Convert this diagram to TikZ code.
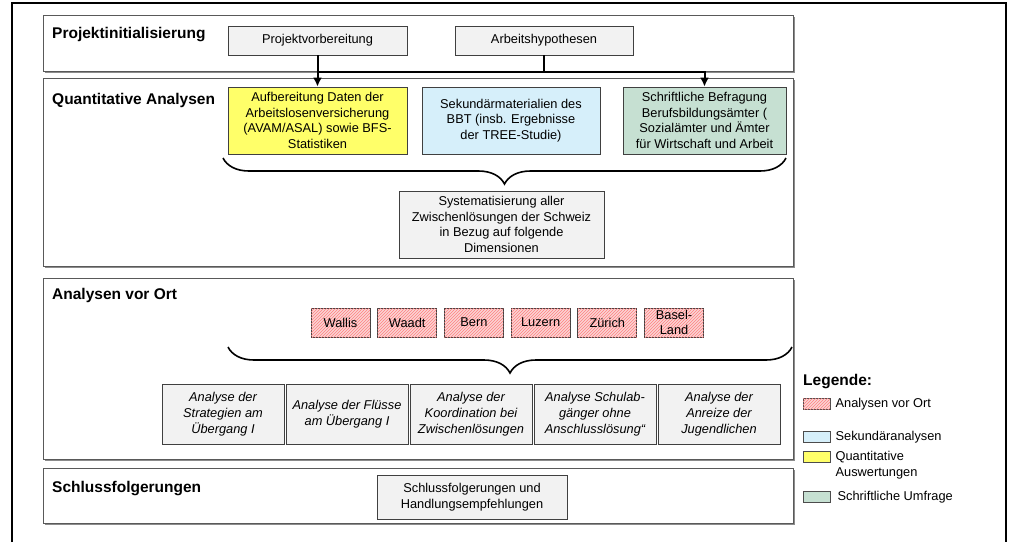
\documentclass[tikz,border=0pt]{standalone}
\usepackage{fontspec}
\setmainfont{Liberation Sans}
\usetikzlibrary{positioning,arrows.meta,decorations.pathreplacing,shadows,patterns}

\definecolor{boxgray}{RGB}{242,242,242}
\definecolor{ortred}{RGB}{250,212,212}
\definecolor{sekblue}{RGB}{214,239,250}
\definecolor{quantyellow}{RGB}{255,255,105}
\definecolor{umfgreen}{RGB}{198,224,210}

\begin{document}
\begin{tikzpicture}
    [x=1pt,y=-1pt
    ,every node/.style={font=\fontsize{12.8}{15.6}\selectfont, inner sep=0pt}
    ,panel/.style={draw=black!65, line width=1pt, fill=white, minimum width=750,
        drop shadow={shadow xshift=1.5pt, shadow yshift=-1.5pt, fill=black!45, opacity=1}}
    ,title/.style={anchor=west, font=\fontsize{15.5}{18}\selectfont\bfseries}
    ,box/.style={draw=black!75, line width=0.8pt, fill=boxgray, align=center}
    ,ortbox/.style={box, fill=ortred, postaction={pattern=north east lines, pattern color=red!50}}
    ,canton/.style={ortbox, minimum width=59, minimum height=29}
    ,anabox/.style={box, minimum width=122, minimum height=60,
        font=\fontsize{12.8}{15.8}\selectfont\itshape}
    ,swatch/.style={draw=black!70, line width=0.8pt, minimum width=27, minimum height=11}
    ,conn/.style={line width=2pt}
    ,bracket/.style={line width=1.6pt, decorate, decoration={brace, mirror, amplitude=26pt}}
    ,>={Latex[length=9pt,width=9pt]}
    ]

    \useasboundingbox (0,0) rectangle (1013,542);

    % outer frame
    \draw[line width=2.5pt] (12,542) -- (12,3) -- (1006,3) -- (1006,542);

    % phases
    \node[panel, minimum height=56] (p1) at (418,43) {};
    \node[panel, minimum height=188] (p2) at (418,172) {};
    \node[panel, minimum height=181] (p3) at (418,368.5) {};
    \node[panel, minimum height=55] (p4) at (418,495.5) {};

    \node[title] (t1) at (52,35) {Projektinitialisierung};
    \node[title] (t2) at (52,100) {Quantitative Analysen};
    \node[title] (t3) at (52,295) {Analysen vor Ort};
    \node[title] (t4) at (52,489) {Schlussfolgerungen};

    % Projektinitialisierung
    \node[box, minimum width=179, minimum height=29] (prep) at (317.5,40.5) {Projektvorbereitung};
    \node[box, minimum width=178, minimum height=29] (hyp) at (544,40.5) {Arbeitshypothesen};

    % Quantitative Analysen
    \node[box, fill=quantyellow, minimum width=179, minimum height=67] (daten) at (317.5,120.5)
        {Aufbereitung Daten der\\Arbeitslosenversicherung\\(AVAM/ASAL) sowie BFS-\\Statistiken};
    \node[box, fill=sekblue, minimum width=178, minimum height=67] (bbt) at (511,120.5)
        {Sekundärmaterialien des\\BBT (insb. Ergebnisse\\der TREE-Studie)};
    \node[box, fill=umfgreen, minimum width=163, minimum height=67] (umfrage) at (704.5,120.5)
        {Schriftliche Befragung\\Berufsbildungsämter (\\Sozialämter und Ämter\\für Wirtschaft und Arbeit};
    \node[box, minimum width=205, minimum height=67] (system) at (501.5,224.5)
        {Systematisierung aller\\Zwischenlösungen der Schweiz\\in Bezug auf folgende\\Dimensionen};

    \draw[conn,->] (prep) -- (daten);
    \draw[conn] (hyp) -- (hyp |- p1.south);
    \draw[conn,->] (prep |- p1.south) -| (umfrage);

    \draw[bracket] (223,158) -- (786,158);

    % Analysen vor Ort
    \foreach \lbl [count=\i] in {Wallis,Waadt,Bern,Luzern,Zürich,{Basel-\\Land}}
        \node[canton] (c\i) at ({340.5+66.7*(\i-1)},322.5) {\lbl};

    \draw[bracket] (228,347) -- (792,347);

    \foreach \lbl [count=\i] in {{Analyse der\\Strategien am\\Übergang I},
                                 {Analyse der Flüsse\\am Übergang I},
                                 {Analyse der\\Koordination bei\\Zwischenlösungen},
                                 {Analyse Schulab-\\gänger ohne\\Anschlusslösung“},
                                 {Analyse der\\Anreize der\\Jugendlichen}}
        \node[anabox] (a\i) at ({223+124*(\i-1)},414) {\lbl};

    % Schlussfolgerungen
    \node[box, minimum width=190, minimum height=44] (schluss) at (472,497)
        {Schlussfolgerungen und\\Handlungsempfehlungen};

    % legend
    \node[title] (legtitle) at (803,382) {Legende:};
    \node[swatch, fill=ortred, postaction={pattern=north east lines, pattern color=red!50}] (lg1) at (816.5,404) {};
    \node[swatch, fill=sekblue] (lg2) at (816.5,437) {};
    \node[swatch, fill=quantyellow] (lg3) at (816.5,457) {};
    \node[swatch, fill=umfgreen] (lg4) at (816.5,497) {};
    \node[right=5pt of lg1] (lt1) {Analysen vor Ort};
    \node[right=5pt of lg2] (lt2) {Sekundäranalysen};
    \node[right=5pt of lg3.north east, anchor=north west, align=left] (lt3) {Quantitative\\Auswertungen};
    \node[right=7pt of lg4] (lt4) {Schriftliche Umfrage};

\end{tikzpicture}
\end{document}
